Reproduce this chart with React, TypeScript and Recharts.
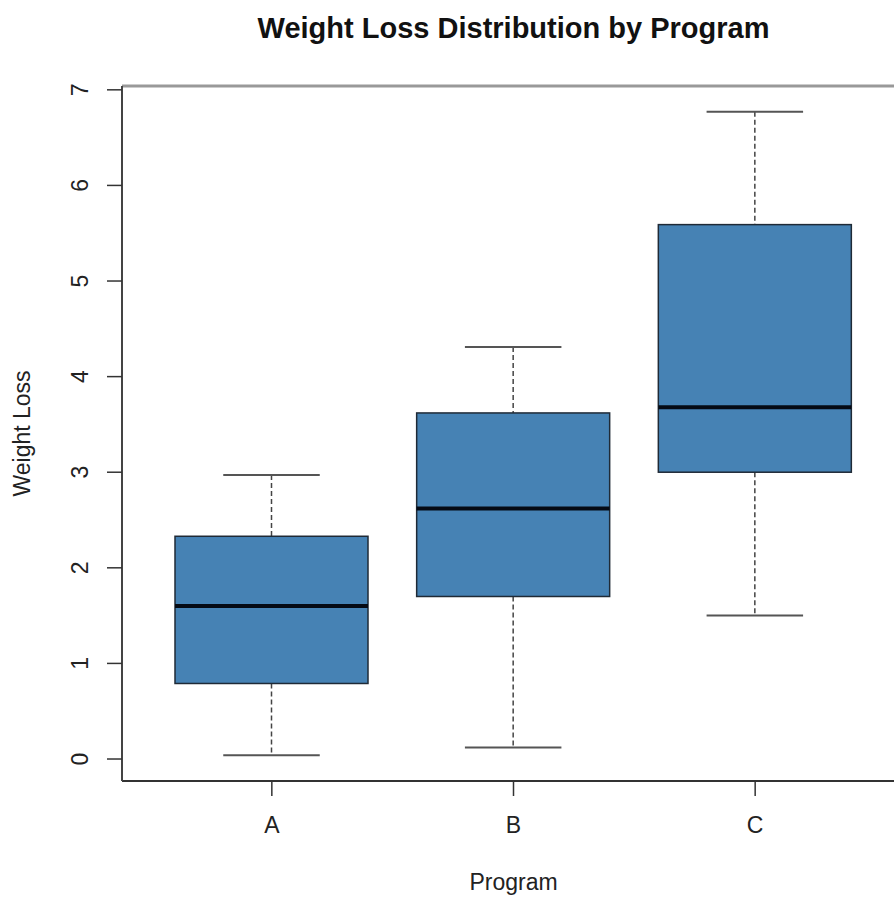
import { ComposedChart, Bar, XAxis, YAxis, ReferenceLine } from "recharts";

const programs = ["A", "B", "C"];
const whiskerLow = [0.04, 0.12, 1.5];
const q1 = [0.79, 1.7, 3.0];
const median = [1.6, 2.62, 3.68];
const q3 = [2.33, 3.62, 5.59];
const whiskerHigh = [2.97, 4.31, 6.77];
const yTicks = [0, 1, 2, 3, 4, 5, 6, 7];

const FONT = '"Liberation Sans", Arial, sans-serif';

const data = programs.map((p, i) => ({
  program: p,
  lo: whiskerLow[i],
  q1: q1[i],
  med: median[i],
  q3: q3[i],
  hi: whiskerHigh[i],
}));

// box + whiskers, pixel positions derived from the bar's own scale
function BoxShape(props: any) {
  const { x, y, width, height, payload } = props;
  const k = height / (payload.q3 - payload.q1);
  const py = (v: number) => y + (payload.q3 - v) * k;
  const cx = x + width / 2;
  const cap = width / 4;
  return (
    <g>
      <line x1={cx} x2={cx} y1={py(payload.hi)} y2={py(payload.q3)} stroke="#444" strokeWidth={1.5} strokeDasharray="5 3" />
      <line x1={cx} x2={cx} y1={py(payload.q1)} y2={py(payload.lo)} stroke="#444" strokeWidth={1.5} strokeDasharray="5 3" />
      <line x1={cx - cap} x2={cx + cap} y1={py(payload.hi)} y2={py(payload.hi)} stroke="#555" strokeWidth={2} />
      <line x1={cx - cap} x2={cx + cap} y1={py(payload.lo)} y2={py(payload.lo)} stroke="#555" strokeWidth={2} />
      <rect x={x} y={y} width={width} height={height} fill="#4682B4" stroke="#1f2a36" strokeWidth={1.5} />
      <line x1={x} x2={x + width} y1={py(payload.med)} y2={py(payload.med)} stroke="#050a14" strokeWidth={4} />
    </g>
  );
}

function YTick(props: any) {
  const { x, y, payload } = props;
  const tx = x - 27;
  return (
    <text x={tx} y={y} transform={`rotate(-90, ${tx}, ${y})`} textAnchor="middle" dominantBaseline="central" fontSize={23} fontFamily={FONT} fill="#222">
      {payload.value}
    </text>
  );
}

function XTick(props: any) {
  const { x, y, payload } = props;
  return (
    <text x={x} y={y + 37} textAnchor="middle" fontSize={23} fontFamily={FONT} fill="#222">
      {payload.value}
    </text>
  );
}

export default function App() {
  return (
    <div style={{ position: "absolute", left: 0, top: 0, width: 894, height: 897, overflow: "hidden", background: "#fff" }}>
      <div style={{ position: "absolute", left: 0, top: 14, width: 1027, textAlign: "center", fontFamily: FONT, fontWeight: "bold", fontSize: 29, lineHeight: 1, color: "#111" }}>
        Weight Loss Distribution by Program
      </div>
      <ComposedChart width={920} height={897} data={data} margin={{ top: 86, right: 15, left: 0, bottom: 0 }}>
        <XAxis
          dataKey="program"
          type="category"
          height={116}
          padding={{ left: 29, right: 29 }}
          tickSize={15}
          tickMargin={0}
          tick={<XTick />}
          axisLine={{ stroke: "#333", strokeWidth: 2 }}
          tickLine={{ stroke: "#333", strokeWidth: 1.5 }}
          label={(p: any) => {
            const vb = p.viewBox;
            return (
              <text x={vb.x + vb.width / 2} y={vb.y + 109} textAnchor="middle" fontSize={23} fontFamily={FONT} fill="#222">
                Program
              </text>
            );
          }}
        />
        <YAxis
          type="number"
          width={122}
          domain={[-0.23, 7.04]}
          allowDataOverflow
          ticks={yTicks}
          tickSize={15}
          tickMargin={0}
          tick={<YTick />}
          axisLine={{ stroke: "#444", strokeWidth: 2 }}
          tickLine={{ stroke: "#333", strokeWidth: 1.5 }}
          label={(p: any) => {
            const vb = p.viewBox;
            const lx = vb.x + 22;
            const ly = vb.y + vb.height / 2;
            return (
              <text x={lx} y={ly} transform={`rotate(-90, ${lx}, ${ly})`} textAnchor="middle" dominantBaseline="central" fontSize={23} fontFamily={FONT} fill="#222">
                Weight Loss
              </text>
            );
          }}
        />
        <ReferenceLine y={7.04} stroke="#999" strokeWidth={3} />
        <Bar dataKey={(d: any) => [d.q1, d.q3]} barSize={193} shape={<BoxShape />} isAnimationActive={false} />
      </ComposedChart>
    </div>
  );
}
